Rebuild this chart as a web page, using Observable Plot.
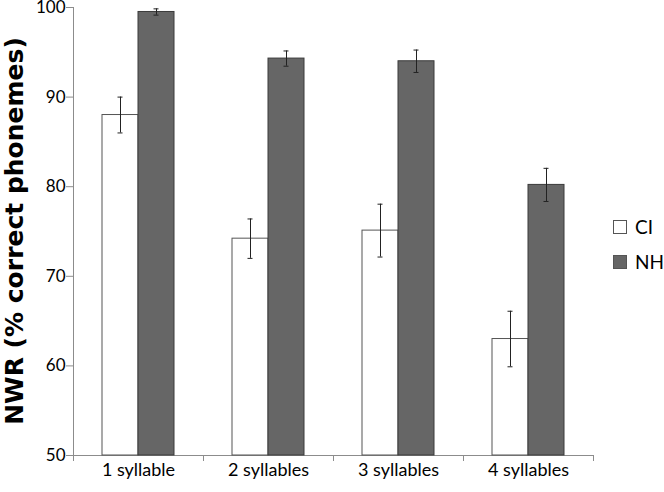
<!DOCTYPE html>
<html>
<head>
<meta charset="utf-8">
<script src="https://cdn.jsdelivr.net/npm/d3@7"></script>
<script src="https://cdn.jsdelivr.net/npm/@observablehq/plot@0.6"></script>
<style>
  html, body { margin: 0; padding: 0; background: #fff; }
  #wrap { position: relative; width: 664px; height: 492px; font-family: Lato, "Open Sans", sans-serif; }
  #chart svg { overflow: visible; }
  #ylabel { position: absolute; left: 14px; top: 231px; transform: translate(-50%, -50%) rotate(-90deg); white-space: nowrap; font-family: "DejaVu Sans", sans-serif; font-weight: bold; font-size: 25px; color: #000; }
  .leg { position: absolute; left: 613px; display: flex; align-items: center; font-size: 19px; color: #000; }
  .sw { width: 14px; height: 14px; border: 1px solid #555; margin-right: 8px; box-sizing: border-box; }
</style>
</head>
<body>
<div id="wrap">
  <div id="chart"></div>
  <div id="ylabel">NWR (% correct phonemes)</div>
  <div class="leg" style="top:215px"><div class="sw" style="background:#fff"></div>CI</div>
  <div class="leg" style="top:250px"><div class="sw" style="background:#666"></div>NH</div>
</div>
<script>
const categories = ["1 syllable", "2 syllables", "3 syllables", "4 syllables"];
const series = ["CI", "NH"];
const ciValues = [88.0, 74.2, 75.1, 63.0];
const ciErrors = [2.0, 2.2, 2.95, 3.1];
const nhValues = [99.5, 94.3, 94.0, 80.2];
const nhErrors = [0.35, 0.85, 1.25, 1.85];
const yTicks = [50, 60, 70, 80, 90, 100];
const yDomain = [50, 100];

const rows = [];
categories.forEach((c, i) => {
  rows.push({cat: c, series: "CI", value: ciValues[i], err: ciErrors[i]});
  rows.push({cat: c, series: "NH", value: nhValues[i], err: nhErrors[i]});
});

const W = 664, H = 492, ML = 73, MR = 71, MT = 7, MB = 37;
const half = (W - ML - MR) / categories.length / 2;
const axisGray = "#8c8c8c";

const plot = Plot.plot({
  width: W, height: H,
  marginLeft: ML, marginRight: MR, marginTop: MT, marginBottom: MB,
  style: {fontFamily: "Lato, 'Open Sans', sans-serif", background: "#fff", color: "#000", overflow: "visible"},
  fx: {domain: categories, padding: 0, label: null},
  x: {domain: series, paddingInner: 0, paddingOuter: 0.757, axis: null},
  y: {domain: yDomain, label: null},
  color: {domain: series, range: ["#ffffff", "#666666"]},
  marks: [
    Plot.ruleY([yDomain[0]], {stroke: axisGray}),
    Plot.frame({anchor: "left", facetAnchor: "left", stroke: axisGray}),
    Plot.axisY({ticks: yTicks, text: null, tickSize: 7, stroke: axisGray, label: null}),
    Plot.axisY({ticks: yTicks, tickSize: 0, tickPadding: 8, fontSize: 17, label: null, fill: "#000"}),
    Plot.axisFx({anchor: "bottom", text: null, tickSize: 6, dx: half, stroke: axisGray, label: null}),
    Plot.axisFx({anchor: "bottom", text: null, tickSize: 6, dx: -half, stroke: axisGray, label: null}),
    Plot.axisFx({anchor: "bottom", tickSize: 0, tickPadding: 8, fontSize: 18, label: null, fill: "#000"}),
    Plot.barY(rows, {fx: "cat", x: "series", y1: yDomain[0], y2: "value", fill: "series",
      stroke: d => d.series === "CI" ? "#555" : "#3a3a3a", strokeWidth: 1}),
    Plot.ruleX(rows, {fx: "cat", x: "series", y1: d => d.value - d.err, y2: d => d.value + d.err, stroke: "#222"}),
    Plot.tickY(rows, {fx: "cat", x: "series", y: d => d.value - d.err, stroke: "#222", inset: 15.5}),
    Plot.tickY(rows, {fx: "cat", x: "series", y: d => d.value + d.err, stroke: "#222", inset: 15.5})
  ]
});
document.getElementById("chart").appendChild(plot);
</script>
</body>
</html>
